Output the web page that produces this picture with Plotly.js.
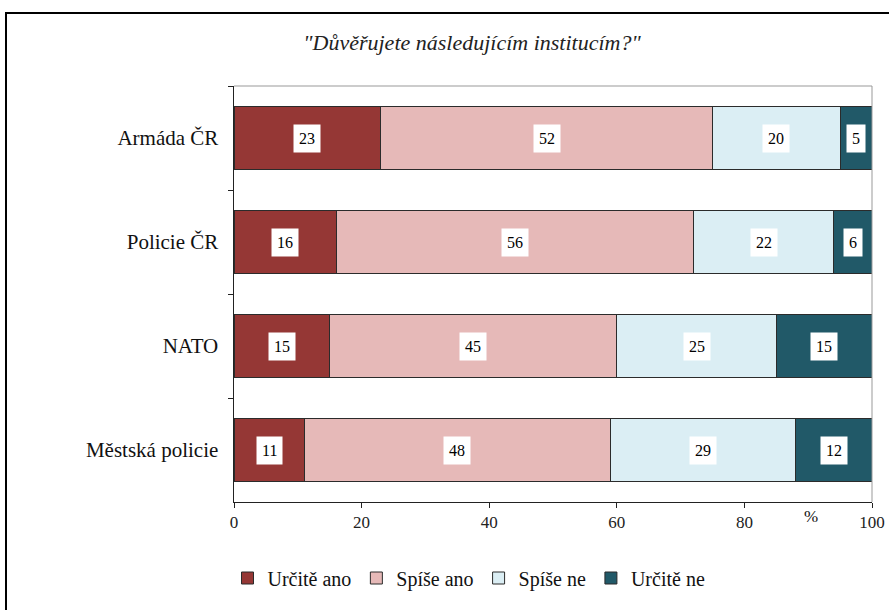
<!DOCTYPE html>
<html>
<head>
<meta charset="utf-8">
<script src="https://cdn.plot.ly/plotly-3.0.1.min.js"></script>
</head>
<body style="margin:0;padding:0;background:#fff">
<div id="chart" style="width:889px;height:610px"></div>
<script>
const categories = ["Armáda ČR", "Policie ČR", "NATO", "Městská policie"];
const seriesNames = ["Určitě ano", "Spíše ano", "Spíše ne", "Určitě ne"];
const urciteAno = [23, 16, 15, 11];
const spiseAno = [52, 56, 45, 48];
const spiseNe = [20, 22, 25, 29];
const urciteNe = [5, 6, 15, 12];
const xTicks = [0, 20, 40, 60, 80, 100];
const colors = ["#953735", "#E6B9B8", "#DBEEF4", "#215968"];

const seriesValues = [urciteAno, spiseAno, spiseNe, urciteNe];
const serif = "Liberation Serif";

const traces = seriesValues.map((vals, i) => ({
  type: "bar",
  orientation: "h",
  name: seriesNames[i],
  y: categories,
  x: vals,
  marker: {color: colors[i], line: {color: "#2b2b2b", width: 1}},
  hoverinfo: "x+name"
}));

const annotations = [];
categories.forEach((c, ci) => {
  let cum = 0;
  seriesValues.forEach((vals) => {
    const v = vals[ci];
    annotations.push({
      x: cum + v / 2, y: c, xref: "x", yref: "y",
      text: String(v), showarrow: false,
      bgcolor: "#ffffff", borderpad: 5,
      font: {family: serif, size: 16, color: "#000"}
    });
    cum += v;
  });
});
annotations.push({
  xref: "paper", yref: "paper", x: (820 - 234) / 638, y: (502 - 528) / 416,
  text: "%", showarrow: false, font: {family: serif, size: 17, color: "#111"}
});

const layout = {
  width: 889, height: 610,
  margin: {l: 234, r: 17, t: 86, b: 108},
  paper_bgcolor: "#fff", plot_bgcolor: "#fff",
  barmode: "stack",
  bargap: 0.4,
  font: {family: serif},
  title: {
    text: "\"Důvěřujete následujícím institucím?\"",
    font: {family: serif, size: 22, color: "#222", style: "italic"},
    x: 472 / 889, xanchor: "center", xref: "container",
    y: 1 - 42 / 610, yanchor: "middle", yref: "container"
  },
  xaxis: {
    range: [0, 100], tickvals: xTicks, ticktext: xTicks.map(String),
    ticks: "outside", ticklen: 5, tickcolor: "#222",
    showgrid: false, zeroline: false,
    showline: true, linecolor: "#222", linewidth: 1,
    tickfont: {family: serif, size: 17, color: "#222"}
  },
  yaxis: {
    type: "category", autorange: "reversed",
    tickson: "boundaries", ticks: "outside", ticklen: 5, tickcolor: "#222",
    showline: true, linecolor: "#222", linewidth: 1,
    showgrid: false, zeroline: false,
    tickfont: {family: serif, size: 21, color: "#111"},
    ticksuffix: "  "
  },
  shapes: [
    {type: "line", xref: "paper", yref: "paper", x0: 0, x1: 1, y0: 1, y1: 1, line: {color: "#999", width: 1}},
    {type: "line", xref: "paper", yref: "paper", x0: 1, x1: 1, y0: 0, y1: 1, line: {color: "#999", width: 1}},
    {type: "rect", xref: "paper", yref: "paper",
     x0: (6 - 234) / 638, x1: (900 - 234) / 638,
     y0: (502 - 620) / 416, y1: (502 - 13) / 416,
     line: {color: "#000", width: 2}, fillcolor: "rgba(0,0,0,0)", layer: "above"}
  ],
  legend: {
    orientation: "h", x: (469 - 234) / 638, xanchor: "center",
    y: (502 - 578) / 416, yanchor: "middle",
    font: {family: serif, size: 20, color: "#111"},
    traceorder: "normal", itemwidth: 30
  },
  annotations: annotations,
  showlegend: true
};

Plotly.newPlot("chart", traces, layout, {displayModeBar: false, staticPlot: true});
</script>
</body>
</html>
